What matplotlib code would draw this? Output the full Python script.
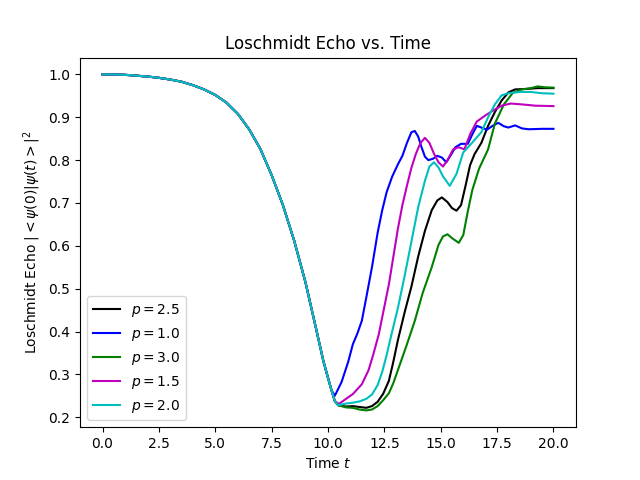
import numpy as np
import matplotlib
matplotlib.use("Agg")
import matplotlib.pyplot as plt

# shared decay before the curves split (t, echo)
t_common = [0.0, 0.5, 1.0, 1.5, 2.0, 2.5, 3.0, 3.5, 4.0, 4.5, 5.0, 5.5, 6.0,
            6.5, 7.0, 7.5, 8.0, 8.5, 9.0, 9.5, 9.8, 10.0, 10.15]
echo_common = [1.000, 1.000, 0.999, 0.997, 0.995, 0.992, 0.988, 0.983, 0.975,
               0.965, 0.952, 0.934, 0.908, 0.872, 0.826, 0.765, 0.695, 0.612,
               0.515, 0.400, 0.330, 0.292, 0.264]

# p = 2.5
t_p25 = [10.3, 10.45, 10.8, 11.1, 11.4, 11.7, 11.95, 12.2, 12.45, 12.7, 12.9,
         13.1, 13.4, 13.7, 14.0, 14.3, 14.6, 14.85, 15.05, 15.3, 15.5, 15.7, 15.9,
         16.1, 16.3, 16.5, 16.8, 17.1, 17.4, 17.7, 18.0, 18.3, 18.8, 19.3, 20.0]
echo_p25 = [0.238, 0.228, 0.225, 0.226, 0.224, 0.222, 0.226, 0.236, 0.255, 0.285,
            0.330, 0.380, 0.445, 0.505, 0.575, 0.635, 0.683, 0.706, 0.713, 0.702,
            0.688, 0.682, 0.695, 0.740, 0.788, 0.814, 0.840, 0.880, 0.912, 0.939,
            0.958, 0.965, 0.966, 0.968, 0.968]

# p = 1.0
t_p10 = [10.3, 10.6, 10.9, 11.1, 11.3, 11.5, 11.7, 11.95, 12.2, 12.4, 12.6,
         12.85, 13.1, 13.3, 13.5, 13.7, 13.85, 14.0, 14.15, 14.3, 14.45, 14.65,
         14.85, 15.05, 15.25, 15.45, 15.65, 15.9, 16.2, 16.4, 16.6, 16.8, 17.05,
         17.3, 17.55, 17.8, 18.0, 18.3, 18.6, 18.9, 19.5, 20.0]
echo_p10 = [0.250, 0.282, 0.330, 0.370, 0.395, 0.425, 0.480, 0.550, 0.630, 0.682,
            0.725, 0.762, 0.790, 0.810, 0.840, 0.865, 0.868, 0.855, 0.830, 0.808,
            0.800, 0.803, 0.810, 0.806, 0.795, 0.812, 0.830, 0.838, 0.838, 0.860,
            0.880, 0.876, 0.871, 0.880, 0.887, 0.879, 0.876, 0.881, 0.874, 0.872,
            0.873, 0.873]

# p = 3.0
t_p30 = [10.3, 10.45, 10.8, 11.1, 11.4, 11.7, 11.95, 12.2, 12.45, 12.7, 12.9,
         13.1, 13.5, 13.85, 14.2, 14.6, 14.9, 15.1, 15.3, 15.5, 15.8, 16.0, 16.2,
         16.4, 16.7, 17.1, 17.4, 17.8, 18.2, 18.6, 19.0, 19.3, 19.6, 20.0]
echo_p30 = [0.238, 0.228, 0.223, 0.222, 0.218, 0.216, 0.218, 0.226, 0.240, 0.256,
            0.280, 0.310, 0.370, 0.425, 0.490, 0.550, 0.602, 0.622, 0.627, 0.618,
            0.607, 0.625, 0.680, 0.730, 0.780, 0.825, 0.885, 0.930, 0.957, 0.965,
            0.968, 0.972, 0.970, 0.969]

# p = 1.5
t_p15 = [10.3, 10.48, 10.8, 11.1, 11.5, 11.8, 12.0, 12.25, 12.45, 12.7, 12.9,
         13.1, 13.3, 13.5, 13.7, 13.9, 14.1, 14.3, 14.5, 14.7, 14.9, 15.1, 15.3,
         15.55, 15.8, 16.05, 16.3, 16.6, 17.0, 17.3, 17.7, 18.1, 18.6, 19.2, 20.0]
echo_p15 = [0.238, 0.231, 0.243, 0.254, 0.277, 0.310, 0.345, 0.393, 0.445, 0.510,
            0.575, 0.640, 0.695, 0.740, 0.782, 0.815, 0.840, 0.852, 0.840, 0.815,
            0.795, 0.785, 0.800, 0.825, 0.830, 0.825, 0.860, 0.890, 0.905, 0.915,
            0.927, 0.932, 0.930, 0.927, 0.926]

# p = 2.0
t_p20 = [10.3, 10.45, 10.8, 11.1, 11.4, 11.7, 11.95, 12.2, 12.4, 12.6, 12.8,
         13.1, 13.4, 13.7, 14.0, 14.3, 14.5, 14.7, 14.9, 15.1, 15.4, 15.7, 16.0,
         16.35, 16.8, 17.1, 17.4, 17.7, 18.0, 18.5, 19.0, 19.5, 20.0]
echo_p20 = [0.238, 0.228, 0.232, 0.234, 0.237, 0.243, 0.253, 0.275, 0.305, 0.345,
            0.390, 0.455, 0.530, 0.610, 0.690, 0.752, 0.785, 0.795, 0.783, 0.762,
            0.740, 0.768, 0.818, 0.838, 0.865, 0.900, 0.930, 0.951, 0.956, 0.959,
            0.959, 0.956, 0.955]

series = [
    ("2.5", "k", t_p25, echo_p25),
    ("1.0", "b", t_p10, echo_p10),
    ("3.0", "g", t_p30, echo_p30),
    ("1.5", "m", t_p15, echo_p15),
    ("2.0", "c", t_p20, echo_p20),
]

plt.figure(figsize=(6.4, 4.8), dpi=100)
for p, color, t_tail, e_tail in series:
    t = np.array(t_common + t_tail)
    e = np.array(echo_common + e_tail)
    plt.plot(t, e, color=color, label=f"$p = {p}$")

plt.xlabel("Time $t$")
plt.ylabel(r"Loschmidt Echo $|<\psi(0)|\psi(t)>|^2$")
plt.title("Loschmidt Echo vs. Time")
plt.legend(loc="lower left")
plt.savefig("out.png", dpi=100)
